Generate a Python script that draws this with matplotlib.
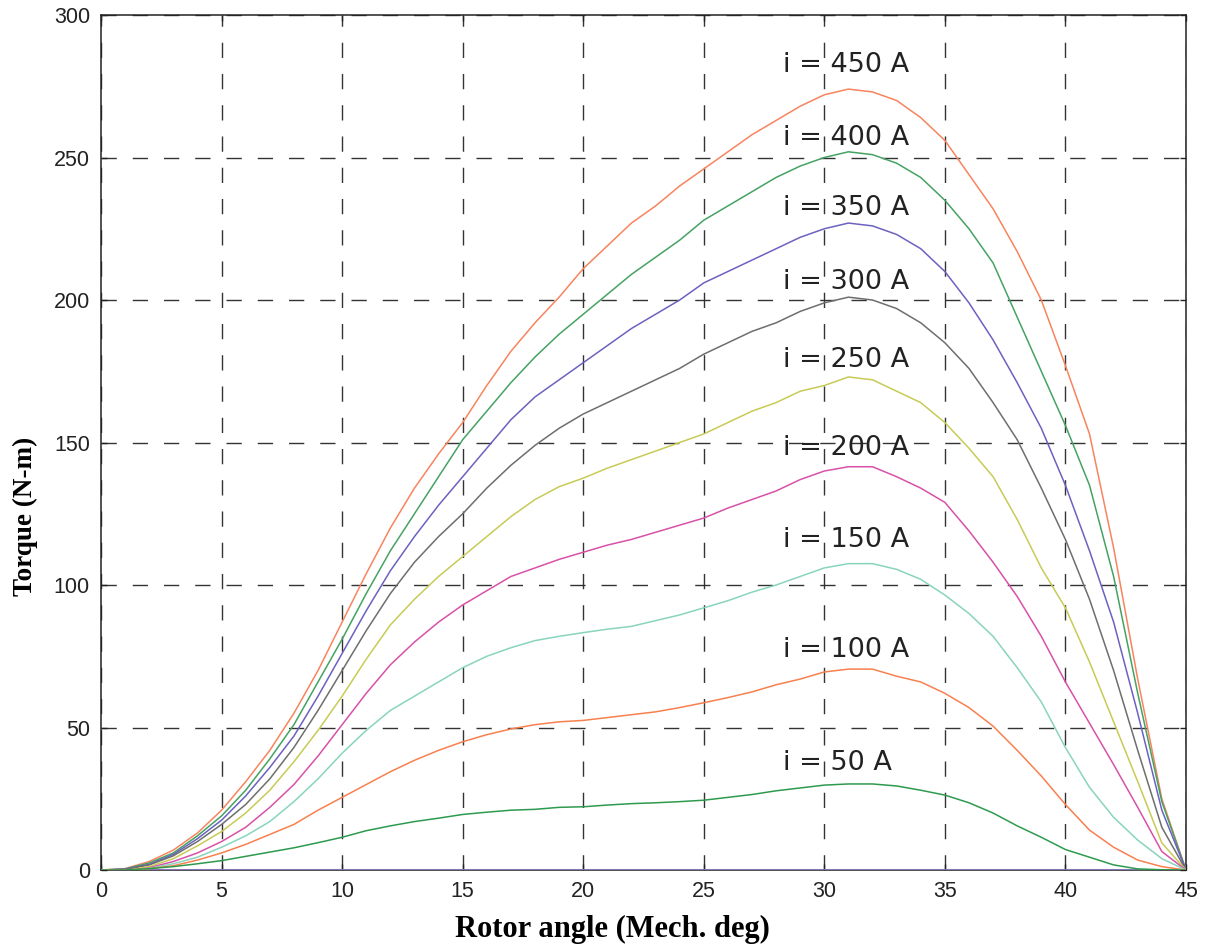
import matplotlib
matplotlib.use("Agg")
import matplotlib.pyplot as plt
import numpy as np

# 转子角 (机械角度), 每 1 度一个点
angle = list(range(0, 46))

# 各电流下的转矩曲线 (N-m)
t450 = [0, 0.5, 3, 7, 13, 21, 31, 42, 55, 70, 87, 104, 120, 134, 146, 157, 170, 182, 192, 201,
        211, 219, 227, 233, 240, 246, 252, 258, 263, 268, 272, 274, 273, 270, 264, 256, 244, 232,
        217, 200, 177, 153, 113, 67, 25, 0]
t400 = [0, 0.4, 2.5, 6, 12, 19, 28, 39, 51, 66, 81, 97, 112, 125, 138, 151, 161, 171, 180, 188,
        195, 202, 209, 215, 221, 228, 233, 238, 243, 247, 250, 252, 251, 248, 243, 235, 225, 213,
        194, 175, 156, 135, 103, 62, 24, 0]
t350 = [0, 0.3, 2, 5.5, 11, 17.5, 26, 36, 47, 61, 76, 91, 105, 117, 128, 138, 148, 158, 166, 172,
        178, 184, 190, 195, 200, 206, 210, 214, 218, 222, 225, 227, 226, 223, 218, 210, 199, 186,
        171, 155, 135, 112, 87, 55, 21, 0]
t300 = [0, 0.2, 1.8, 5, 10, 16, 23, 32, 43, 56, 70, 84, 97, 108, 117, 125, 134, 142, 149, 155,
        160, 164, 168, 172, 176, 181, 185, 189, 192, 196, 199, 201, 200, 197, 192, 185, 176, 164,
        151, 134, 116, 95, 70, 42, 15, 0]
t250 = [0, -0.3, 1.2, 4, 8.5, 13.5, 20, 28, 38, 49, 61, 74, 86, 95, 103, 110, 117, 124, 130, 134.5,
        137.5, 141, 144, 147, 150, 153, 157, 161, 164, 168, 170, 173, 172, 168, 164, 157, 148, 138,
        123, 106, 92, 73, 52, 31, 9.5, 0]
t200 = [0, -0.5, 0.8, 3, 6, 10, 15, 22, 30, 40, 51, 62, 72, 80, 87, 93, 98, 103, 106, 109,
        111.5, 114, 116, 118.5, 121, 123.5, 127, 130, 133, 137, 140, 141.5, 141.5, 138, 134, 129,
        119, 108, 96, 82, 66, 51.5, 37, 22, 6.5, 0]
t150 = [0, -0.3, 0.6, 2.2, 4.5, 8, 12, 17, 24, 32, 41, 49, 56, 61, 66, 71, 75, 78, 80.5, 82,
        83.3, 84.5, 85.5, 87.5, 89.5, 92, 94.5, 97.5, 100, 103, 106, 107.5, 107.5, 105.5, 102,
        96.5, 90, 82, 71, 59, 43, 29, 18.5, 10.5, 4, 0]
t100 = [0, 0, 0.5, 1.5, 3.5, 6, 9, 12.5, 16, 21, 25.5, 30, 34.5, 38.5, 42, 45, 47.5, 49.5, 51, 52,
        52.5, 53.5, 54.5, 55.5, 57, 58.7, 60.5, 62.5, 65, 67, 69.5, 70.5, 70.5, 68, 66, 62, 57,
        50.5, 42, 33, 23, 14, 8, 3.5, 1.2, 0]
t50 = [0, 0, 0.5, 1.2, 2.2, 3.3, 4.8, 6.3, 7.8, 9.6, 11.5, 13.8, 15.5, 17, 18.2, 19.5, 20.3, 21,
       21.3, 22, 22.2, 22.8, 23.3, 23.6, 24, 24.5, 25.5, 26.5, 27.8, 28.8, 29.8, 30.2, 30.2, 29.5,
       28, 26.3, 23.6, 20, 15.5, 11.5, 7.2, 4.5, 1.8, 0.4, 0.1, 0]
t0 = [0] * 46

currents = [450, 400, 350, 300, 250, 200, 150, 100, 50]
colors = ['#F8845E', '#45A262', '#6B62C0', '#6E6E6E', '#C7CB55',
          '#D851A8', '#88D4BF', '#F8804F', '#2E9A4E']
# 标注位置 (x, y), 数据坐标
label_y = [282.5, 256.7, 232.4, 206.4, 179, 148, 115.8, 77.2, 37.6]
label_x = 28.3

series = [t450, t400, t350, t300, t250, t200, t150, t100, t50]

# ---------- 绘图 ----------
fig = plt.figure(figsize=(12.13, 9.49), dpi=100)
ax = fig.add_axes([0.0833, 0.0832, 0.8944, 0.9010])

ax.plot(angle, t0, color='#8575B5', linewidth=2.2, zorder=3)
for t, c in zip(series, colors):
    ax.plot(angle, t, color=c, linewidth=1.1, zorder=3)

for cur, ly in zip(currents, label_y):
    ax.text(label_x, ly, f'i = {cur} A', fontsize=19.5, family='DejaVu Sans',
            color='#222222', va='center', ha='left', zorder=4)

ax.set_xlim(0, 45)
ax.set_ylim(0, 300)
ax.set_xticks(range(0, 46, 5))
ax.set_yticks(range(0, 301, 50))

ax.grid(True, color='#333333', linestyle=(0, (11, 11.5)), linewidth=1.0, zorder=1)
ax.tick_params(direction='in', length=4, width=1, top=True, right=True,
               labelsize=15.5, pad=8, colors='#222222')
for lbl in ax.get_xticklabels() + ax.get_yticklabels():
    lbl.set_family('Liberation Sans')
for s in ax.spines.values():
    s.set_linewidth(1.1)
    s.set_color('#222222')

ax.set_xlabel('Rotor angle (Mech. deg)', fontsize=22, fontweight='bold',
              family='Liberation Serif')
ax.set_ylabel('Torque (N-m)', fontsize=19.5, fontweight='bold',
              family='Liberation Serif')
ax.xaxis.set_label_coords(0.471, -0.052)
ax.yaxis.set_label_coords(-0.058, 0.414)

plt.savefig('out.png', dpi=100)
